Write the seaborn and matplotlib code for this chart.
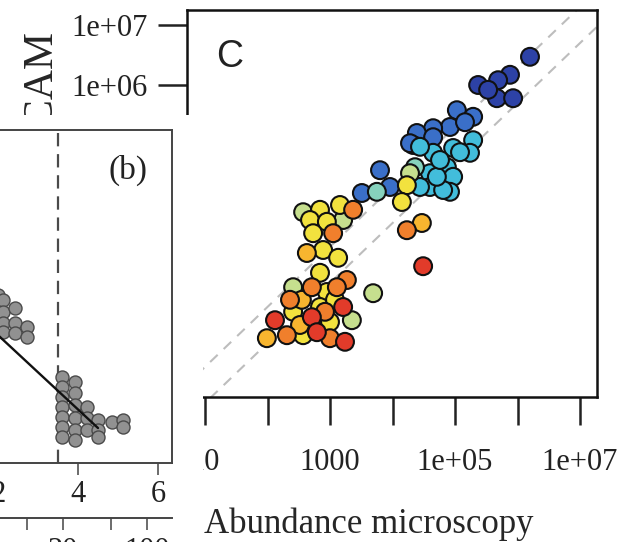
import numpy as np
import pandas as pd
import matplotlib
matplotlib.use("Agg")
import matplotlib.pyplot as plt
import seaborn as sns
from matplotlib.ticker import FixedLocator, FixedFormatter, NullLocator

# ---------------- Panel C data (log10 abundances) ----------------
c_log_micro = [6.20, 5.88, 5.69, 5.37, 5.67, 5.93, 5.53,
               5.03, 5.29, 4.92, 4.65, 4.39, 4.33, 4.65, 3.80, 3.51, 3.96, 5.16, 4.28,
               5.29, 4.97, 4.65, 5.24, 4.87, 4.60, 4.97, 4.92, 4.60, 4.44, 4.81, 4.71, 5.08, 4.44, 4.76,
               3.75, 4.36,
               4.28, 3.69, 3.21, 2.41, 3.35, 2.57,
               4.23, 4.15, 2.84, 3.16, 2.68, 2.95, 2.73, 2.89, 3.13, 2.84, 2.95, 2.41, 2.84, 3.00, 2.57, 3.08,
               2.63, 2.55, 1.99, 4.47, 2.52,
               3.37, 3.05, 2.71, 3.27, 3.11, 2.31, 3.00, 4.23, 2.36, 2.92,
               4.49, 2.71, 3.21, 2.12, 2.79, 3.24]
c_log_cam = [6.47, 6.17, 6.08, 6.00, 5.78, 5.78, 5.92,
             5.58, 5.47, 5.30, 5.28, 5.20, 5.00, 5.13, 4.58, 4.20, 4.30, 5.38, 5.03,
             5.08, 4.95, 4.87, 4.87, 4.63, 4.53, 4.47, 4.22, 4.30, 4.30, 4.25, 4.47, 4.88, 4.97, 4.75,
             4.22, 4.63,
             4.53, 2.53, 3.75, 2.63, 2.08, 3.88,
             4.33, 4.05, 3.92, 4.00, 3.75, 3.72, 3.53, 3.25, 3.12, 2.87, 2.55, 2.22, 2.30, 2.05, 1.83, 2.42,
             3.20, 2.42, 1.78, 3.70, 2.00,
             3.92, 3.53, 2.63, 2.75, 2.63, 1.83, 1.78, 3.58, 2.42, 2.22,
             2.98, 2.13, 2.30, 2.08, 1.88, 1.72]
c_class = [8] * 7 + [7] * 12 + [6] * 15 + [5] * 2 + [4] * 6 + [3] * 16 + [2] * 5 + [1] * 10 + [0] * 6
c_palette = ["#e23b2a", "#f07f2c", "#f7b52f", "#f2e23e", "#c6df8e",
             "#86d2bd", "#42bddb", "#3a6fc8", "#2d42a6"]
c_ref_ratios = [2.0, 0.5]
c_ticks = [1e1, 1e2, 1e3, 1e4, 1e5, 1e6, 1e7]
c_xticklabels = ["10", "", "1000", "", "1e+05", "", "1e+07"]
c_yticklabels = ["", "", "", "", "", "1e+06", "1e+07"]

# ---------------- Panel (b) data ----------------
b_x = [2.0, 2.0, 2.0, 2.125, 2.125, 2.125, 2.125, 2.425, 2.425, 2.425, 2.725, 2.725,
       3.6, 3.6, 3.6, 3.6, 3.6, 3.6, 3.6,
       3.925, 3.925, 3.925, 3.925, 3.925, 3.925,
       4.225, 4.225, 4.225,
       4.5, 4.5, 4.5,
       4.85,
       5.125, 5.125]
b_y = [5.04, 4.59, 4.14, 4.89, 4.53, 4.20, 3.93, 4.65, 4.20, 3.90, 4.08, 3.78,
       2.58, 2.28, 1.98, 1.68, 1.38, 1.08, 0.78,
       2.43, 2.10, 1.74, 1.35, 0.99, 0.69,
       1.68, 1.35, 0.99,
       1.29, 0.99, 0.78,
       1.23,
       1.29, 1.08]
b_fit_x = [2.0, 4.5]
b_fit_y = [3.84, 1.05]
b_break = 3.5
b_xticks = [2, 4, 6]
b_sec_ticks = [10, 20, 50, 100]
b_sec_labels = ["", "20", "", "100"]

# ---------------- Figure ----------------
sns.set_style("white")
plt.rcParams["font.family"] = ["Liberation Serif", "DejaVu Serif"]
plt.rcParams["text.color"] = "#222222"
plt.rcParams["xtick.color"] = "#222222"
plt.rcParams["ytick.color"] = "#222222"

W, H = 643, 542
fig = plt.figure(figsize=(W / 100, H / 100), dpi=100)


def box(l, t, r, b):
    return [l / W, 1 - b / H, (r - l) / W, (b - t) / H]


# ---- Panel C ----
axC = fig.add_axes(box(187, 10, 597, 397))
axC.set_xscale("log")
axC.set_yscale("log")
df_c = pd.DataFrame({"micro": 10 ** np.array(c_log_micro),
                     "cam": 10 ** np.array(c_log_cam),
                     "cls": c_class})
xx = np.logspace(0, 8, 60)
for r in c_ref_ratios:
    axC.plot(xx, r * xx, ls=(0, (5, 4)), color="#bdbdbd", lw=1.5, zorder=1)
sns.scatterplot(data=df_c, x="micro", y="cam", hue="cls",
                palette=dict(enumerate(c_palette)), s=165, edgecolor="#111111",
                linewidth=1.5, legend=False, ax=axC, zorder=3)
axC.set_xlim(10 ** 0.712, 10 ** 7.272)
axC.set_ylim(10 ** 0.8, 10 ** 7.25)
axC.xaxis.set_major_locator(FixedLocator(c_ticks))
axC.xaxis.set_major_formatter(FixedFormatter(c_xticklabels))
axC.yaxis.set_major_locator(FixedLocator(c_ticks))
axC.yaxis.set_major_formatter(FixedFormatter(c_yticklabels))
axC.xaxis.set_minor_locator(NullLocator())
axC.yaxis.set_minor_locator(NullLocator())
axC.tick_params(axis="x", direction="out", length=20, width=1.8, pad=17,
                labelsize=22, bottom=True)
axC.tick_params(axis="y", direction="out", length=21, width=1.8, pad=7,
                labelsize=22, left=True)
for sp in axC.spines.values():
    sp.set_linewidth(1.8)
    sp.set_color("#111111")
axC.set_xlabel("Abundance microscopy", fontsize=25)
axC.xaxis.set_label_coords(0.444, -0.285)
axC.set_ylabel("Abundance FlowCAM", fontsize=30)
axC.yaxis.set_label_coords(-0.305, 0.45)
axC.text(0.105, 0.879, "C", transform=axC.transAxes, fontsize=27,
         family="Liberation Sans", ha="center", va="center", color="#222222")

# ---- white inset region holding panel (b) ----
axW = fig.add_axes(box(0, 115, 203, 542))
axW.set_facecolor("white")
axW.set_xticks([])
axW.set_yticks([])
for sp in axW.spines.values():
    sp.set_visible(False)

# ---- Panel (b) ----
axB = fig.add_axes(box(-148, 130, 172, 463))
axB.set_facecolor("white")
axB.axvline(b_break, ls=(0, (6, 3.5)), color="#4a4a4a", lw=1.6, zorder=1)
sns.scatterplot(x=b_x, y=b_y, color="#919191", edgecolor="#4a4a4a", s=88,
                linewidth=1.0, ax=axB, zorder=2)
axB.plot(b_fit_x, b_fit_y, color="#111111", lw=1.7, zorder=3)
axB.set_xlim(-1.65, 6.35)
axB.set_ylim(0, 10)
axB.set_xticks(b_xticks)
axB.set_xticklabels([str(t) for t in b_xticks])
axB.set_yticks([])
axB.tick_params(axis="x", direction="out", length=8.6, width=1.1, pad=4,
                labelsize=22, bottom=True, color="#444444")
for sp in axB.spines.values():
    sp.set_linewidth(1.4)
    sp.set_color("#444444")
axB.text(0.8625, 0.88, "(b)", transform=axB.transAxes, fontsize=24,
         ha="center", va="center")

# ---- secondary scale under panel (b) ----
axS = fig.add_axes(box(-148, 517, 172, 518))
axS.patch.set_alpha(0)
axS.set_xscale("log")
axS.set_xlim(0.348, 161.6)
axS.xaxis.set_major_locator(FixedLocator(b_sec_ticks))
axS.xaxis.set_major_formatter(FixedFormatter(b_sec_labels))
axS.xaxis.set_minor_locator(NullLocator())
axS.set_yticks([])
for name, sp in axS.spines.items():
    sp.set_visible(name == "bottom")
axS.spines["bottom"].set_linewidth(1.4)
axS.spines["bottom"].set_color("#444444")
axS.tick_params(axis="x", direction="out", length=8.6, width=1.1, pad=5,
                labelsize=22, bottom=True, color="#444444")

fig.savefig("out.png", dpi=100)
